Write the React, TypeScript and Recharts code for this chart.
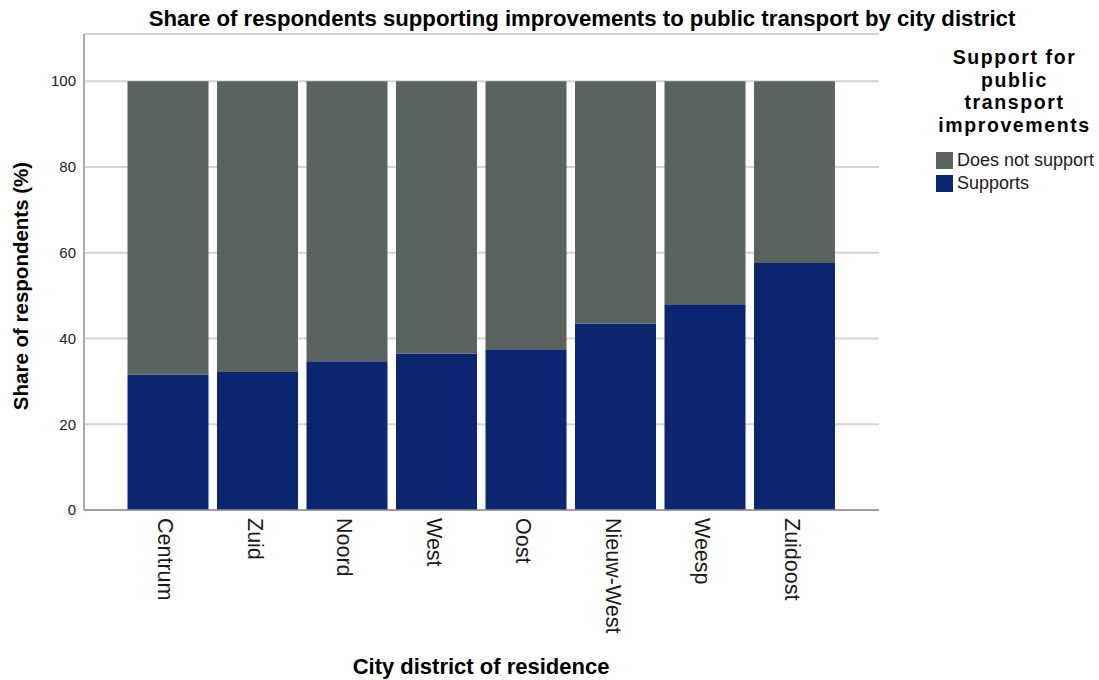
import React from 'react';
import { BarChart, Bar, XAxis, YAxis, CartesianGrid, Legend, Customized } from 'recharts';

const districts = ['Centrum', 'Zuid', 'Noord', 'West', 'Oost', 'Nieuw-West', 'Weesp', 'Zuidoost'];
const supports = [31.6, 32.2, 34.7, 36.5, 37.5, 43.5, 48.0, 57.6];
const doesNotSupport = [68.4, 67.8, 65.3, 63.5, 62.5, 56.5, 52.0, 42.4];
const yTicks = [0, 20, 40, 60, 80, 100];
const legendTitleLines = ['Support for', 'public', 'transport', 'improvements'];

const seriesNames = { supports: 'Supports', notSupport: 'Does not support' };
const colors = { supports: '#0b2570', notSupport: '#5a635e' };

const data = districts.map((d, i) => ({
  district: d,
  supports: supports[i],
  notSupport: doesNotSupport[i],
}));

const FONT = '"Liberation Sans", Arial, sans-serif';

const XTick = (props: any) => {
  const { x, payload } = props;
  return (
    <text
      transform={`translate(${x - 10}, 518) rotate(90)`}
      textAnchor="start"
      fontFamily={FONT}
      fontSize={21.5}
      fill="#1a1a1a"
    >
      {payload.value}
    </text>
  );
};

const Texts = () => (
  <g fontFamily={FONT}>
    <text x={582} y={26} textAnchor="middle" fontSize={22.2} fontWeight="bold" fill="#000">
      Share of respondents supporting improvements to public transport by city district
    </text>
    <text
      transform="translate(28, 286) rotate(-90)"
      textAnchor="middle"
      fontSize={20.5}
      fontWeight="bold"
      fill="#000"
    >
      Share of respondents (%)
    </text>
    <text x={481} y={674} textAnchor="middle" fontSize={22} fontWeight="bold" fill="#000">
      City district of residence
    </text>
  </g>
);

const LegendContent = () => (
  <div style={{ fontFamily: FONT, color: '#000' }}>
    <div style={{ marginBottom: 13 }}>
      {legendTitleLines.map((l) => (
        <div
          key={l}
          style={{
            fontWeight: 'bold',
            fontSize: 19.5,
            letterSpacing: 1.6,
            lineHeight: '22.5px',
            height: 22.5,
            textAlign: 'center',
            whiteSpace: 'nowrap',
          }}
        >
          {l}
        </div>
      ))}
    </div>
    {[
      { name: seriesNames.notSupport, color: colors.notSupport },
      { name: seriesNames.supports, color: colors.supports },
    ].map((it) => (
      <div key={it.name} style={{ display: 'flex', alignItems: 'center', height: 23, paddingLeft: 6 }}>
        <span
          style={{
            display: 'inline-block',
            width: 17,
            height: 17,
            background: it.color,
            marginRight: 4,
          }}
        />
        <span style={{ fontSize: 18, color: '#1a1a1a' }}>{it.name}</span>
      </div>
    ))}
  </div>
);

export default function App() {
  return (
    <div style={{ position: 'absolute', left: 0, top: 0, width: 1099, height: 680, background: '#fff' }}>
      <BarChart
        width={1099}
        height={680}
        data={data}
        margin={{ top: 34, right: 51, bottom: 0, left: 0 }}
      >
        <CartesianGrid vertical={false} stroke="#d4d4d4" strokeWidth={2} />
        <XAxis
          dataKey="district"
          height={170}
          interval={0}
          padding={{ left: 39.5, right: 39.5 }}
          tick={<XTick />}
          tickLine={false}
          axisLine={{ stroke: '#8c8c8c', strokeWidth: 1.5 }}
        />
        <YAxis
          width={84}
          domain={[0, 111]}
          ticks={yTicks}
          tickLine={false}
          tickSize={6}
          tickMargin={2}
          axisLine={{ stroke: '#ababab', strokeWidth: 2 }}
          tick={{ fontFamily: FONT, fontSize: 15, fill: '#222' }}
        />
        <Legend
          content={<LegendContent />}
          layout="vertical"
          align="right"
          verticalAlign="top"
          wrapperStyle={{ position: 'absolute', left: 930, top: 46, width: 169 }}
        />
        <Bar
          dataKey="supports"
          name={seriesNames.supports}
          stackId="a"
          fill={colors.supports}
          barSize={81}
          isAnimationActive={false}
        />
        <Bar
          dataKey="notSupport"
          name={seriesNames.notSupport}
          stackId="a"
          fill={colors.notSupport}
          barSize={81}
          isAnimationActive={false}
        />
        <Customized component={Texts} />
      </BarChart>
    </div>
  );
}
